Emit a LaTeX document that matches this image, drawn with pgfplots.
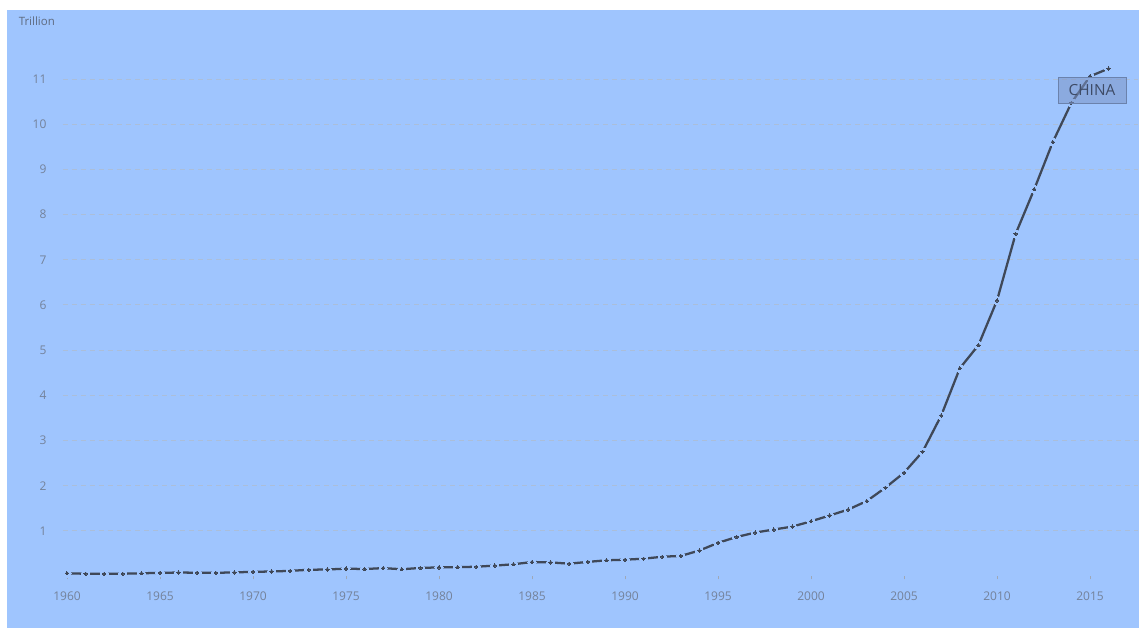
\documentclass[border=0pt]{standalone}
\usepackage{fontspec}
\setmainfont{Open Sans}
\usepackage{pgfplots}
\usepackage{pgfplotstable}
\pgfplotsset{compat=1.18}

\definecolor{panel}{HTML}{9FC5FE}
\definecolor{gridc}{HTML}{ABBED9}
\definecolor{linec}{HTML}{3F4858}
\definecolor{tickc}{HTML}{74829A}
\definecolor{titlec}{HTML}{5F6B80}
\definecolor{boxfill}{HTML}{7C94C6}
\definecolor{boxdraw}{HTML}{6B82AC}
\definecolor{boxtext}{HTML}{3E4B66}

% GDP of China, current US$, in trillions
\pgfplotstableread{
year gdp
1960 0.0597
1961 0.0500
1962 0.0472
1963 0.0507
1964 0.0597
1965 0.0704
1966 0.0768
1967 0.0729
1968 0.0709
1969 0.0797
1970 0.0926
1971 0.0998
1972 0.1137
1973 0.1385
1974 0.1442
1975 0.1632
1976 0.1539
1977 0.1750
1978 0.1495
1979 0.1784
1980 0.1911
1981 0.1959
1982 0.2051
1983 0.2303
1984 0.2599
1985 0.3094
1986 0.3008
1987 0.2729
1988 0.3123
1989 0.3478
1990 0.3609
1991 0.3833
1992 0.4266
1993 0.4447
1994 0.5643
1995 0.7343
1996 0.8637
1997 0.9615
1998 1.0290
1999 1.0940
2000 1.2113
2001 1.3394
2002 1.4706
2003 1.6600
2004 1.9553
2005 2.2860
2006 2.7521
2007 3.5522
2008 4.5982
2009 5.1101
2010 6.1006
2011 7.5726
2012 8.5605
2013 9.6072
2014 10.4757
2015 11.0616
2016 11.2333
}\chinagdp

\begin{document}
\begin{tikzpicture}
\begin{scope}[x=0.75pt,y=-0.75pt]
  \fill[white] (0,0) rectangle (1139,628);
  \fill[panel] (7,10) rectangle (1139,628);
  \node[anchor=base west, inner sep=0pt, text=titlec,
        font=\fontsize{8.6}{10}\selectfont] at (18.5,25.5) {Trillion};
\end{scope}

\begin{axis}[
  at={(47.25pt,-432pt)}, anchor=south west,
  scale only axis, width=806.25pt, height=393pt,
  xmin=1959.785, xmax=2017.58, ymin=0, ymax=11.6,
  axis line style={draw=none},
  xtick={1960,1965,...,2015}, xtick pos=bottom,
  tick align=outside, major tick length=2.5pt,
  x tick style={tickc!70, line width=0.6pt},
  ytick={1,...,11}, y tick style={draw=none},
  ymajorgrids,
  major grid style={gridc, line width=0.75pt, dash pattern=on 3.75pt off 3pt},
  /pgf/number format/assume math mode=true,
  /pgf/number format/1000 sep={},
  ticklabel style={font=\fontsize{9}{10}\selectfont, text=tickc},
  xticklabel style={anchor=center, yshift=-12.4pt},
  yticklabel style={anchor=east, inner sep=0pt, xshift=-9.75pt},
]
  % the series, then a gap round each point, then the point itself
  \addplot[linec, line width=1.7pt, no marks, sharp plot]
    table[x=year, y=gdp] {\chinagdp};
  \addplot[only marks, mark=*, mark size=3.1pt,
    mark options={fill=panel, draw=panel, line width=0pt}]
    table[x=year, y=gdp] {\chinagdp};
  \addplot[only marks, mark=*, mark size=1.25pt,
    mark options={fill=linec, draw=linec, line width=0pt}]
    table[x=year, y=gdp] {\chinagdp};
\end{axis}

\begin{scope}[x=0.75pt,y=-0.75pt]
  \node[draw=boxdraw, fill=boxfill, fill opacity=0.55, text opacity=1,
        line width=0.75pt, inner sep=0pt,
        minimum width=51pt, minimum height=19.5pt,
        text=boxtext, font=\fontsize{11.5}{12}\selectfont]
        at (1092,90) {CHINA};
  \pgfresetboundingbox
  \path[use as bounding box] (0,0) rectangle (1139,628);
\end{scope}
\end{tikzpicture}
\end{document}
